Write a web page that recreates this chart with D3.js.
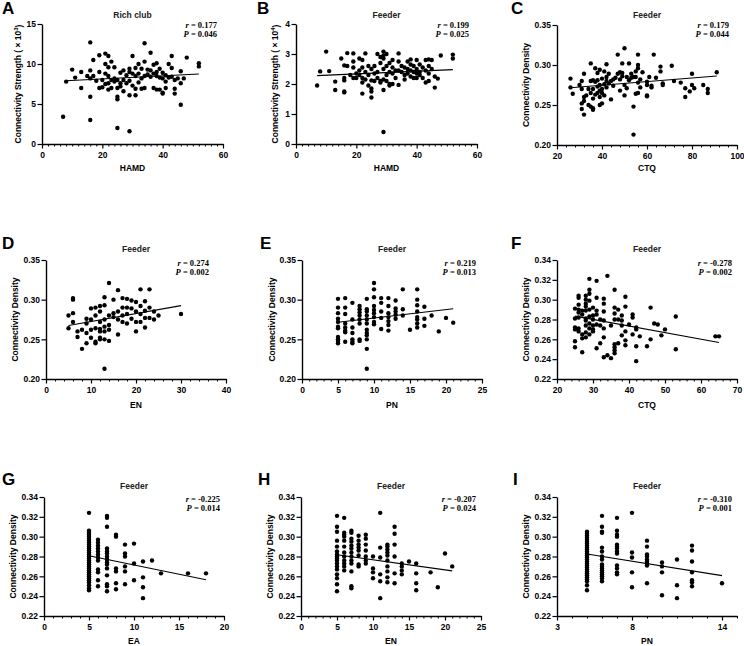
<!DOCTYPE html>
<html><head><meta charset="utf-8">
<script src="https://cdn.jsdelivr.net/npm/d3@7"></script>
<style>body{margin:0;background:#fff}svg{display:block}</style>
</head><body>
<svg id="c" width="744" height="646"></svg>
<script>
// ---------------- DATA ----------------
const ptsA = [[7,3.4],[8,7.8],[10,9.3],[11,8.3],[13,7.0],[13,9.0],[15,8.5],[16,12.7],[16,9.2],[16,8.2],[16,5.9],[16,3.0],[17,10.5],[17,8.5],[18,7.9],[19,11.1],[19,9.0],[19,7.0],[20,7.1],[20,8.0],[21,11.3],[21,10.0],[21,8.8],[21,7.5],[22,11.0],[22,9.6],[22,8.5],[22,6.8],[22,7.6],[23,10.3],[23,8.0],[23,7.0],[24,9.6],[24,8.2],[24,7.8],[25,8.0],[25,7.0],[25,5.9],[25,5.6],[25,2.0],[26,8.9],[26,7.6],[26,7.2],[27,9.2],[27,8.0],[27,6.6],[28,8.6],[28,7.6],[29,9.4],[29,9.0],[29,7.9],[29,6.1],[29,1.6],[30,11.0],[30,8.8],[30,7.3],[31,9.5],[31,8.5],[31,6.9],[31,6.1],[32,10.0],[32,8.8],[32,7.7],[33,9.4],[33,8.2],[33,6.9],[34,12.6],[34,10.3],[34,8.5],[34,7.0],[35,9.3],[35,8.7],[36,11.4],[36,9.2],[36,8.4],[37,9.9],[37,8.8],[37,7.0],[38,10.1],[38,9.0],[38,8.5],[38,6.8],[39,9.4],[39,8.3],[39,6.8],[40,8.9],[40,8.2],[40,6.4],[40,6.3],[41,8.6],[41,7.8],[41,7.0],[42,10.0],[42,8.3],[43,11.0],[43,9.5],[43,8.4],[44,8.0],[44,6.9],[44,6.3],[45,8.2],[46,9.1],[46,7.6],[46,4.9],[47,8.2],[48,10.8],[52,10.1],[52,9.7]];
const ptsB = [[7,1.95],[8,2.42],[10,3.08],[11,2.43],[13,2.08],[13,1.8],[15,2.85],[16,2.62],[16,2.2],[16,2.12],[16,1.75],[16,1.72],[17,3.03],[17,2.6],[18,2.3],[19,3.02],[19,2.75],[19,2.55],[19,2.2],[20,2.2],[20,2.35],[21,2.85],[21,2.45],[21,2.3],[22,2.8],[22,2.55],[22,2.2],[22,2.05],[22,1.68],[23,3.02],[23,2.4],[23,2.15],[24,2.6],[24,2.3],[24,1.95],[25,2.5],[25,2.12],[25,1.85],[25,1.75],[25,1.55],[26,2.6],[26,2.35],[26,2.1],[27,3.0],[27,2.4],[27,2.2],[28,2.9],[28,2.7],[28,2.1],[28,2.05],[29,3.08],[29,2.95],[29,2.85],[29,2.5],[29,2.15],[29,1.8],[29,0.4],[30,3.0],[30,2.6],[30,2.3],[30,2.1],[31,2.7],[31,2.4],[31,2.0],[31,1.95],[32,2.8],[32,2.55],[32,2.35],[32,2.0],[33,2.45],[33,2.2],[34,3.02],[34,2.75],[34,2.45],[34,1.97],[35,2.6],[35,2.4],[36,2.55],[36,2.3],[36,2.15],[37,2.75],[37,2.5],[37,2.35],[38,2.82],[38,2.65],[38,2.45],[38,2.25],[39,2.6],[39,2.4],[39,2.2],[40,2.8],[40,2.5],[40,2.35],[40,2.2],[41,2.65],[41,2.4],[41,2.3],[42,2.55],[42,2.2],[43,2.8],[43,2.45],[43,2.05],[44,2.82],[44,2.6],[44,2.35],[44,2.1],[45,2.8],[45,2.5],[46,2.25],[46,1.88],[47,2.18],[48,2.95],[52,2.98],[52,2.85]];
const ptsC = [[26,0.283],[26,0.272],[27,0.264],[30,0.275],[31,0.280],[31,0.270],[31,0.252],[31,0.245],[32,0.289],[32,0.260],[32,0.255],[32,0.238],[33,0.262],[34,0.270],[34,0.250],[35,0.302],[35,0.280],[35,0.265],[35,0.248],[36,0.281],[36,0.270],[36,0.258],[36,0.246],[36,0.244],[37,0.296],[37,0.279],[37,0.263],[38,0.290],[38,0.281],[38,0.273],[38,0.265],[39,0.294],[39,0.275],[39,0.260],[39,0.250],[39,0.268],[40,0.283],[40,0.270],[40,0.265],[40,0.252],[41,0.292],[41,0.276],[41,0.262],[42,0.301],[42,0.285],[42,0.280],[42,0.272],[43,0.289],[43,0.277],[44,0.280],[44,0.257],[45,0.282],[45,0.274],[46,0.284],[47,0.313],[47,0.289],[48,0.291],[48,0.282],[48,0.268],[49,0.302],[49,0.290],[49,0.286],[50,0.321],[50,0.275],[50,0.262],[51,0.285],[51,0.271],[52,0.302],[52,0.281],[53,0.289],[53,0.284],[54,0.285],[54,0.248],[54,0.213],[55,0.292],[55,0.285],[55,0.264],[56,0.313],[56,0.300],[56,0.296],[56,0.278],[56,0.265],[57,0.282],[57,0.272],[58,0.291],[60,0.279],[60,0.275],[60,0.262],[60,0.261],[61,0.285],[62,0.274],[62,0.272],[63,0.313],[64,0.284],[66,0.298],[66,0.292],[67,0.277],[67,0.275],[71,0.299],[72,0.280],[75,0.278],[77,0.271],[77,0.260],[79,0.267],[80,0.289],[80,0.275],[81,0.271],[85,0.275],[87,0.270],[87,0.265],[91,0.291]];
const ptsD = [[5,0.280],[5,0.264],[6,0.302],[6,0.300],[6,0.283],[6,0.272],[7,0.260],[7,0.253],[8,0.262],[8,0.238],[9,0.276],[9,0.270],[9,0.258],[9,0.245],[10,0.289],[10,0.275],[10,0.262],[10,0.252],[11,0.290],[11,0.280],[11,0.264],[11,0.247],[11,0.245],[12,0.292],[12,0.285],[12,0.272],[12,0.263],[12,0.260],[12,0.252],[12,0.250],[13,0.303],[13,0.293],[13,0.275],[13,0.266],[13,0.260],[13,0.250],[13,0.213],[14,0.321],[14,0.280],[14,0.268],[14,0.262],[14,0.248],[15,0.300],[15,0.283],[15,0.278],[16,0.312],[16,0.285],[16,0.275],[16,0.256],[17,0.302],[17,0.290],[17,0.280],[17,0.272],[18,0.301],[18,0.290],[18,0.282],[18,0.270],[19,0.299],[19,0.289],[19,0.276],[20,0.297],[20,0.285],[20,0.272],[20,0.260],[21,0.313],[21,0.292],[21,0.282],[21,0.272],[22,0.298],[22,0.286],[22,0.277],[22,0.265],[23,0.313],[23,0.290],[23,0.277],[24,0.285],[24,0.275],[25,0.280],[30,0.282]];
const ptsE = [[5,0.301],[5,0.290],[5,0.283],[5,0.276],[5,0.272],[5,0.266],[5,0.264],[5,0.253],[5,0.250],[5,0.248],[5,0.245],[6,0.302],[6,0.290],[6,0.282],[6,0.270],[6,0.265],[6,0.261],[6,0.259],[6,0.247],[7,0.296],[7,0.275],[7,0.265],[7,0.258],[7,0.250],[7,0.247],[7,0.245],[8,0.292],[8,0.288],[8,0.284],[8,0.280],[8,0.275],[8,0.270],[8,0.250],[8,0.248],[9,0.301],[9,0.288],[9,0.285],[9,0.280],[9,0.275],[9,0.270],[9,0.262],[9,0.258],[9,0.255],[9,0.250],[9,0.238],[9,0.213],[10,0.321],[10,0.313],[10,0.303],[10,0.292],[10,0.287],[10,0.283],[10,0.278],[10,0.272],[10,0.269],[11,0.302],[11,0.296],[11,0.285],[11,0.277],[11,0.263],[12,0.302],[12,0.292],[12,0.283],[12,0.278],[12,0.273],[12,0.268],[12,0.261],[13,0.299],[13,0.289],[13,0.285],[13,0.281],[13,0.276],[14,0.313],[14,0.288],[14,0.280],[15,0.262],[16,0.313],[16,0.300],[16,0.293],[16,0.285],[16,0.278],[16,0.275],[16,0.270],[16,0.265],[17,0.291],[17,0.276],[17,0.267],[18,0.280],[19,0.260],[20,0.277],[21,0.271]];
const ptsF = [[25,0.291],[25,0.281],[25,0.272],[25,0.270],[25,0.258],[25,0.252],[26,0.304],[26,0.302],[26,0.295],[26,0.290],[26,0.287],[26,0.282],[26,0.271],[26,0.268],[27,0.289],[27,0.285],[27,0.265],[27,0.261],[27,0.247],[28,0.304],[28,0.300],[28,0.296],[28,0.293],[28,0.289],[28,0.281],[28,0.279],[28,0.274],[28,0.267],[28,0.262],[29,0.321],[29,0.310],[29,0.306],[29,0.299],[29,0.290],[29,0.283],[29,0.276],[29,0.271],[29,0.265],[30,0.292],[30,0.284],[30,0.280],[30,0.274],[30,0.270],[30,0.268],[31,0.319],[31,0.302],[31,0.289],[31,0.285],[31,0.275],[31,0.251],[32,0.280],[32,0.274],[32,0.256],[33,0.301],[33,0.296],[33,0.288],[33,0.279],[33,0.271],[33,0.262],[33,0.242],[34,0.324],[34,0.244],[35,0.274],[35,0.241],[36,0.310],[36,0.292],[36,0.286],[36,0.280],[36,0.255],[36,0.252],[36,0.249],[36,0.246],[37,0.290],[37,0.280],[37,0.256],[38,0.284],[38,0.279],[38,0.274],[38,0.264],[39,0.303],[39,0.293],[39,0.268],[39,0.259],[39,0.254],[40,0.275],[41,0.285],[41,0.282],[41,0.265],[42,0.272],[42,0.270],[42,0.253],[42,0.238],[43,0.263],[45,0.253],[46,0.292],[46,0.260],[47,0.276],[48,0.275],[49,0.264],[50,0.270],[53,0.283],[53,0.250],[64,0.263],[65,0.263]];
const ptsG = [[5,0.324],[5,0.306],[5,0.304],[5,0.302],[5,0.300],[5,0.298],[5,0.296],[5,0.294],[5,0.292],[5,0.290],[5,0.288],[5,0.286],[5,0.284],[5,0.282],[5,0.280],[5,0.278],[5,0.276],[5,0.274],[5,0.272],[5,0.270],[5,0.268],[5,0.266],[5,0.264],[5,0.262],[5,0.260],[5,0.258],[5,0.256],[5,0.254],[5,0.251],[5,0.248],[5,0.246],[6,0.297],[6,0.294],[6,0.291],[6,0.288],[6,0.285],[6,0.282],[6,0.279],[6,0.276],[6,0.267],[6,0.264],[6,0.256],[6,0.250],[7,0.321],[7,0.319],[7,0.310],[7,0.288],[7,0.285],[7,0.283],[7,0.280],[7,0.277],[7,0.274],[7,0.272],[7,0.268],[7,0.261],[7,0.252],[7,0.250],[7,0.245],[8,0.302],[8,0.300],[8,0.268],[8,0.265],[8,0.253],[8,0.247],[9,0.292],[9,0.283],[9,0.280],[9,0.270],[9,0.265],[9,0.252],[10,0.293],[10,0.273],[10,0.256],[11,0.275],[11,0.259],[11,0.249],[11,0.238],[12,0.276],[13,0.263],[16,0.263],[18,0.263]];
const ptsH = [[5,0.321],[5,0.310],[5,0.305],[5,0.296],[5,0.290],[5,0.285],[5,0.282],[5,0.280],[5,0.278],[5,0.276],[5,0.273],[5,0.270],[5,0.267],[5,0.262],[5,0.258],[5,0.252],[5,0.245],[6,0.319],[6,0.304],[6,0.302],[6,0.300],[6,0.296],[6,0.290],[6,0.284],[6,0.280],[6,0.276],[6,0.273],[6,0.270],[6,0.266],[7,0.306],[7,0.304],[7,0.298],[7,0.295],[7,0.291],[7,0.288],[7,0.284],[7,0.280],[7,0.276],[7,0.273],[7,0.265],[7,0.250],[7,0.248],[8,0.301],[8,0.296],[8,0.292],[8,0.289],[8,0.286],[8,0.281],[8,0.272],[8,0.270],[9,0.302],[9,0.298],[9,0.292],[9,0.286],[9,0.280],[9,0.276],[9,0.273],[10,0.280],[10,0.268],[10,0.264],[10,0.258],[11,0.324],[11,0.289],[11,0.279],[11,0.262],[11,0.255],[11,0.238],[12,0.292],[12,0.290],[12,0.287],[12,0.284],[12,0.281],[12,0.276],[12,0.270],[12,0.265],[12,0.259],[12,0.254],[13,0.310],[13,0.303],[13,0.292],[13,0.280],[13,0.263],[13,0.253],[14,0.273],[14,0.270],[14,0.266],[14,0.262],[15,0.275],[16,0.273],[16,0.263],[16,0.253],[16,0.246],[18,0.264],[19,0.249],[20,0.283],[21,0.270]];
const ptsI = [[5,0.305],[5,0.303],[5,0.301],[5,0.299],[5,0.297],[5,0.295],[5,0.293],[5,0.291],[5,0.289],[5,0.287],[5,0.285],[5,0.283],[5,0.281],[5,0.279],[5,0.277],[5,0.275],[5,0.273],[5,0.271],[5,0.269],[5,0.267],[5,0.265],[5,0.263],[5,0.261],[5,0.259],[5,0.257],[5,0.255],[5,0.251],[5,0.246],[6,0.321],[6,0.310],[6,0.305],[6,0.304],[6,0.289],[6,0.285],[6,0.280],[6,0.277],[6,0.272],[6,0.270],[6,0.268],[6,0.266],[6,0.264],[6,0.262],[6,0.260],[6,0.258],[6,0.255],[7,0.319],[7,0.306],[7,0.302],[7,0.300],[7,0.292],[7,0.290],[7,0.288],[7,0.285],[7,0.283],[7,0.271],[7,0.268],[7,0.264],[7,0.262],[8,0.324],[8,0.284],[8,0.279],[8,0.264],[8,0.249],[9,0.296],[9,0.290],[9,0.282],[9,0.280],[9,0.277],[9,0.275],[9,0.273],[9,0.271],[9,0.253],[10,0.274],[10,0.270],[10,0.264],[10,0.241],[11,0.277],[11,0.251],[11,0.238],[12,0.291],[12,0.286],[12,0.275],[12,0.264],[12,0.256],[12,0.254],[12,0.250],[14,0.253]];

// fitted regression lines (endpoints)
const fitA = [[8,7.9],[52,8.75]];
const fitB = [[7,2.28],[52,2.48]];
const fitC = [[26,0.2715],[91,0.2862]];
const fitD = [[5,0.2675],[30,0.2925]];
const fitE = [[5,0.2715],[21,0.2885]];
const fitF = [[25,0.2834],[65,0.2568]];
const fitG = [[5,0.2808],[18,0.2566]];
const fitH = [[5,0.2818],[21,0.2655]];
const fitI = [[5,0.2825],[14,0.2607]];

const panelLetters = ["A","B","C","D","E","F","G","H","I"];
const panelTitles = ["Rich club","Feeder","Feeder","Feeder","Feeder","Feeder","Feeder","Feeder","Feeder"];
const xTitles = ["HAMD","HAMD","CTQ","EN","PN","CTQ","EA","EN","PN"];
const yTitles = ["Connectivity Strength ( × 10|3|)","Connectivity Strength ( × 10|4|)","Connectivity Density","Connectivity Density","Connectivity Density","Connectivity Density","Connectivity Density","Connectivity Density","Connectivity Density"];
const statR = ["0.177","0.199","0.179","0.274","0.219","-0.278","-0.225","-0.207","-0.310"];
const statP = ["0.046","0.025","0.044","0.002","0.013","0.002","0.014","0.024","0.001"];
const xDomains = [[0,60],[0,60],[20,100],[0,40],[0,25],[20,70],[0,20],[0,25],[3,15]];
const yDomains = [[0,15],[0,4],[0.20,0.35],[0.20,0.35],[0.20,0.35],[0.22,0.34],[0.22,0.34],[0.22,0.34],[0.22,0.34]];
const xTicks = [[0,20,40,60],[0,20,40,60],[20,40,60,80,100],[0,10,20,30,40],[0,5,10,15,20,25],[20,30,40,50,60,70],[0,5,10,15,20],[0,5,10,15,20,25],[3,8,14]];
const xMinorStep = [2,2,4,2,1,2,1,1,1];
const yTicks = [[0,5,10,15],[0,1,2,3,4],[0.20,0.25,0.30,0.35],[0.20,0.25,0.30,0.35],[0.20,0.25,0.30,0.35],[0.22,0.24,0.26,0.28,0.30,0.32,0.34],[0.22,0.24,0.26,0.28,0.30,0.32,0.34],[0.22,0.24,0.26,0.28,0.30,0.32,0.34],[0.22,0.24,0.26,0.28,0.30,0.32,0.34]];
const yFormats = ["d","d",".2f",".2f",".2f",".2f",".2f",".2f",".2f"];
const allPts = [ptsA,ptsB,ptsC,ptsD,ptsE,ptsF,ptsG,ptsH,ptsI];
const allFits = [fitA,fitB,fitC,fitD,fitE,fitF,fitG,fitH,fitI];

// ---------------- LAYOUT ----------------
const plotBox = [[42,223,24,144],[296,477,24,144],[557,737,25,145],[46,226,260,379],[302,482,260,379],[557,737,260,379],[44,224,497,616],[301,481,497,616],[557,737,497,616]];
const letterPos = [[2,14],[257,14],[511,14],[2,249],[260,249],[511,249],[2,485],[258,485],[513,485]];
const titleY = [17.5,17.5,17.5,252,252,252,489,489,489];
const statRight = [217,469,729,209,476,732,220,476,732];
const statY = [28,28,28,266,266,266,502,502,502];
const yTitleX = [18,275,526,15,272,526,13,270,526];
const xTitleY = [171,171,171,408,408,408,644,644,644];

const SANS = "'Liberation Sans', Arial, sans-serif";
const SERIF = "'Liberation Serif', 'Times New Roman', serif";
const svg = d3.select("#c");

panelLetters.forEach((L, i) => {
  const [x0,x1,y0,y1] = plotBox[i];
  const x = d3.scaleLinear().domain(xDomains[i]).range([x0,x1]);
  const y = d3.scaleLinear().domain(yDomains[i]).range([y1,y0]);
  const g = svg.append("g");

  const [dx0,dx1] = xDomains[i];
  const minor = d3.range(dx0, dx1 + 1e-9, xMinorStep[i]).filter(v => !xTicks[i].some(t => Math.abs(t - v) < 1e-9));
  g.append("g").attr("transform",`translate(0,${y1})`)
    .call(d3.axisBottom(x).tickValues(minor).tickSize(2.5).tickSizeOuter(0).tickFormat(""))
    .call(s => s.select(".domain").remove())
    .call(s => s.selectAll("line").attr("stroke","#000").attr("stroke-width",1));
  g.append("g").attr("transform",`translate(0,${y1})`)
    .call(d3.axisBottom(x).tickValues(xTicks[i]).tickSize(4.5).tickSizeOuter(0).tickPadding(3).tickFormat(d3.format("d")))
    .call(s => s.select(".domain").attr("stroke","#000").attr("stroke-width",1.4))
    .call(s => s.selectAll("line").attr("stroke","#000").attr("stroke-width",1.2))
    .call(s => s.selectAll("text").attr("font-family",SANS).attr("font-weight","bold").attr("font-size",8.5).attr("fill","#000"));
  g.append("g").attr("transform",`translate(${x0},0)`)
    .call(d3.axisLeft(y).tickValues(yTicks[i]).tickSize(4.5).tickSizeOuter(0).tickPadding(1.5).tickFormat(d3.format(yFormats[i])))
    .call(s => s.select(".domain").attr("stroke","#000").attr("stroke-width",1.4))
    .call(s => s.selectAll("line").attr("stroke","#000").attr("stroke-width",1.2))
    .call(s => s.selectAll("text").attr("font-family",SANS).attr("font-weight","bold").attr("font-size",8.5).attr("fill","#000"));

  const f = allFits[i];
  g.append("line").attr("x1",x(f[0][0])).attr("y1",y(f[0][1])).attr("x2",x(f[1][0])).attr("y2",y(f[1][1]))
    .attr("stroke","#000").attr("stroke-width",1.1);

  g.selectAll("circle.pt").data(allPts[i]).join("circle").attr("class","pt")
    .attr("cx",d => x(d[0])).attr("cy",d => y(d[1])).attr("r",2.2).attr("fill","#000");

  svg.append("text").attr("x",letterPos[i][0]).attr("y",letterPos[i][1]).text(L)
    .attr("font-family",SANS).attr("font-weight","bold").attr("font-size",17).attr("fill","#000");
  svg.append("text").attr("x",(x0+x1)/2).attr("y",titleY[i]).attr("text-anchor","middle").text(panelTitles[i])
    .attr("font-family",SANS).attr("font-weight","bold").attr("font-size",8.5).attr("fill","#222");
  svg.append("text").attr("x",(x0+x1)/2).attr("y",xTitleY[i]).attr("text-anchor","middle").text(xTitles[i])
    .attr("font-family",SANS).attr("font-weight","bold").attr("font-size",8.5).attr("fill","#000");
  const yt = svg.append("text").attr("transform",`translate(${yTitleX[i]},${(y0+y1)/2}) rotate(-90)`)
    .attr("text-anchor","middle").attr("dy","0.35em")
    .attr("font-family",SANS).attr("font-weight","bold").attr("font-size",8.5).attr("fill","#000");
  const parts = yTitles[i].split("|");
  yt.append("tspan").text(parts[0]);
  if (parts.length > 1) {
    yt.append("tspan").attr("dy","-0.45em").attr("font-size",6).text(parts[1]);
    yt.append("tspan").attr("dy","0.45em").text(parts[2]);
  }
  const st = svg.append("g").attr("font-family",SERIF).attr("font-weight","bold").attr("font-size",8.5).attr("fill","#000");
  const r1 = st.append("text").attr("x",statRight[i]).attr("y",statY[i]).attr("text-anchor","end");
  r1.append("tspan").attr("font-style","italic").text("r");
  r1.append("tspan").text(" = " + statR[i]);
  const r2 = st.append("text").attr("x",statRight[i]).attr("y",statY[i]+9).attr("text-anchor","end");
  r2.append("tspan").attr("font-style","italic").text("P");
  r2.append("tspan").text(" = " + statP[i]);
});
</script>
</body></html>
